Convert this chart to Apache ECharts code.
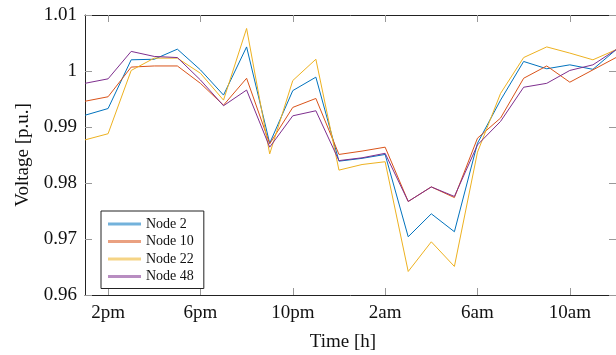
<!DOCTYPE html>
<html>
<head>
<meta charset="utf-8">
<script src="https://cdn.jsdelivr.net/npm/echarts@6/dist/echarts.min.js"></script>
<style>
  html, body { margin: 0; padding: 0; background: #fff; }
  #chart { width: 616px; height: 355px; }
</style>
</head>
<body>
<div id="chart"></div>
<script>
// hourly samples, 1pm to noon next day
const hours = ['1pm', '2pm', '3pm', '4pm', '5pm', '6pm', '7pm', '8pm', '9pm', '10pm', '11pm', '12am',
  '1am', '2am', '3am', '4am', '5am', '6am', '7am', '8am', '9am', '10am', '11am', '12pm'];
const shownHours = ['2pm', '6pm', '10pm', '2am', '6am', '10am'];

const node2 = [0.9921, 0.9933, 1.0020, 1.0021, 1.0039, 1.0002, 0.9957, 1.0043, 0.9871, 0.9965, 0.9989, 0.9839,
  0.9844, 0.9851, 0.9704, 0.9745, 0.9713, 0.9871, 0.9948, 1.0017, 1.0004, 1.0011, 1.0003, 1.0038];
const node10 = [0.9946, 0.9954, 1.0007, 1.0009, 1.0009, 0.9978, 0.9939, 0.9987, 0.9870, 0.9935, 0.9951, 0.9851,
  0.9857, 0.9864, 0.9767, 0.9793, 0.9774, 0.9880, 0.9916, 0.9987, 1.0009, 0.9980, 1.0002, 1.0024];
const node22 = [0.9877, 0.9888, 1.0001, 1.0023, 1.0023, 0.9996, 0.9948, 1.0076, 0.9852, 0.9983, 1.0021, 0.9823,
  0.9833, 0.9838, 0.9642, 0.9695, 0.9651, 0.9855, 0.9960, 1.0024, 1.0043, 1.0032, 1.0020, 1.0038];
const node48 = [0.9978, 0.9986, 1.0035, 1.0026, 1.0024, 0.9984, 0.9938, 0.9966, 0.9864, 0.9920, 0.9929, 0.9840,
  0.9845, 0.9853, 0.9767, 0.9793, 0.9776, 0.9868, 0.9910, 0.9971, 0.9978, 1.0001, 1.0011, 1.0038];

const font = 'Liberation Serif';
const showTick = (idx, val) => shownHours.includes(val);

const chart = echarts.init(document.getElementById('chart'));

const frameLine = { show: true, lineStyle: { color: '#222', width: 1 } };
const tickStyle = { show: true, inside: true, length: 7, lineStyle: { color: '#999', width: 1 } };

const lineSeries = (name, data, color) => ({
  name,
  type: 'line',
  data,
  symbol: 'none',
  lineStyle: { color, width: 1 },
  itemStyle: { color },
});

chart.setOption({
  animation: false,
  color: ['#0072BD', '#D95319', '#EDB120', '#7E2F8E'],
  grid: { left: 85, right: 0, top: 15, bottom: 60, outerBoundsMode: 'none' },
  legend: {
    orient: 'vertical',
    left: 101,
    top: 211,
    padding: [6, 10, 5, 7],
    icon: 'rect',
    itemWidth: 33,
    itemHeight: 3,
    itemGap: 3.5,
    borderColor: '#222',
    borderWidth: 1,
    backgroundColor: '#fff',
    itemStyle: { opacity: 0.55 },
    textStyle: { fontFamily: font, fontSize: 14, lineHeight: 14, color: '#111' },
    data: ['Node 2', 'Node 10', 'Node 22', 'Node 48'],
  },
  xAxis: [
    {
      type: 'category',
      data: hours,
      boundaryGap: false,
      name: 'Time [h]',
      nameLocation: 'middle',
      nameGap: 38,
      nameTextStyle: { fontFamily: font, fontSize: 19, color: '#111', padding: [0, 15, 0, 0] },
      axisLine: frameLine,
      axisTick: { ...tickStyle, interval: showTick },
      axisLabel: { interval: showTick, fontFamily: font, fontSize: 19, color: '#111', margin: 9 },
      splitLine: { show: false },
    },
    {
      type: 'category',
      data: hours,
      boundaryGap: false,
      position: 'top',
      axisLine: frameLine,
      axisTick: { ...tickStyle, interval: showTick },
      axisLabel: { show: false },
      splitLine: { show: false },
    },
  ],
  yAxis: [
    {
      type: 'value',
      min: 0.96,
      max: 1.01,
      interval: 0.01,
      name: 'Voltage [p.u.]',
      nameLocation: 'middle',
      nameGap: 52,
      nameTextStyle: { fontFamily: font, fontSize: 19, color: '#111' },
      axisLine: frameLine,
      axisTick: tickStyle,
      axisLabel: {
        fontFamily: font,
        fontSize: 19,
        color: '#111',
        margin: 8,
        formatter: (v) => String(+v.toFixed(2)),
      },
      splitLine: { show: false },
    },
    {
      type: 'value',
      min: 0.96,
      max: 1.01,
      interval: 0.01,
      position: 'right',
      axisLine: frameLine,
      axisTick: tickStyle,
      axisLabel: { show: false },
      splitLine: { show: false },
    },
  ],
  series: [
    lineSeries('Node 2', node2, '#0072BD'),
    lineSeries('Node 10', node10, '#D95319'),
    lineSeries('Node 22', node22, '#EDB120'),
    lineSeries('Node 48', node48, '#7E2F8E'),
  ],
});
</script>
</body>
</html>
